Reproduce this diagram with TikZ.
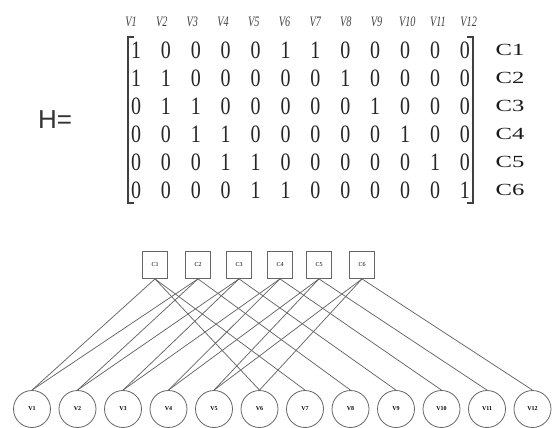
\documentclass[tikz,border=0pt]{standalone}
\usepackage{fontspec}
\setmainfont{Liberation Serif}
\newfontfamily\hsans{Liberation Sans}
\usepackage{graphicx}
\usetikzlibrary{positioning}

\newcommand\tallnum[1]{\scalebox{1}[1.25]{#1}}
\newcommand\widelab[1]{\scalebox{1.45}[1]{#1}}
\newcommand\narrowlab[1]{\scalebox{0.85}[1.2]{#1}}

\begin{document}
\begin{tikzpicture}[
  x=1pt, y=-1pt,
  entry/.style={inner sep=0pt, text=black!85, font=\fontsize{20}{20}\selectfont},
  vhead/.style={inner sep=0pt, text=black!75, font=\fontsize{12}{12}\selectfont\itshape},
  clab/.style={inner sep=0pt, text=black!90, font=\fontsize{17}{17}\selectfont},
  chk/.style={draw=black!60, line width=0.8pt, minimum width=25pt, minimum height=27pt, inner sep=0pt, font=\fontsize{6}{6}\selectfont},
  var/.style={draw=black!60, line width=0.8pt, circle, minimum size=37pt, inner sep=0pt, font=\fontsize{6}{6}\selectfont\bfseries},
  edge/.style={draw=black!60, line width=0.75pt},
  brk/.style={draw=black!75, line width=1.1pt}
]
  \useasboundingbox (0,0) rectangle (552,428);

  \node[inner sep=0pt, text=black!80, font=\hsans\fontsize{26}{26}\selectfont] (heq) at (55,120) {H=};

  \foreach \i in {1,...,12}
    \node[vhead] (h\i) at ({131+30.7*(\i-1)},22) {\narrowlab{V\i}};

  \foreach \row [count=\r] in {{1,0,0,0,0,1,1,0,0,0,0,0},{1,1,0,0,0,0,0,1,0,0,0,0},{0,1,1,0,0,0,0,0,1,0,0,0},{0,0,1,1,0,0,0,0,0,1,0,0},{0,0,0,1,1,0,0,0,0,0,1,0},{0,0,0,0,1,1,0,0,0,0,0,1}} {
    \foreach \val [count=\c] in \row
      \node[entry] (m\r-\c) at ({136+29.9*(\c-1)},{50+28*(\r-1)}) {\tallnum{\val}};
    \node[clab] (cl\r) at (510,{50+28*(\r-1)}) {\widelab{C\r}};
  }

  \draw[brk] (134,37) -- (128,37) -- (128,203) -- (134,203);
  \draw[brk] (467,37) -- (473,37) -- (473,203) -- (467,203);

  \foreach \x [count=\k] in {155,198,239,280,319,362}
    \node[chk] (c\k) at (\x,265) {C\k};

  \foreach \i in {1,...,12}
    \node[var] (v\i) at ({32+45.5*(\i-1)},409) {V\i};

  \foreach \k/\vs in {1/{1,6,7},2/{1,2,8},3/{2,3,9},4/{3,4,10},5/{4,5,11},6/{5,6,12}}
    \foreach \v in \vs
      \draw[edge] (c\k.south) -- (v\v.north);
\end{tikzpicture}
\end{document}
